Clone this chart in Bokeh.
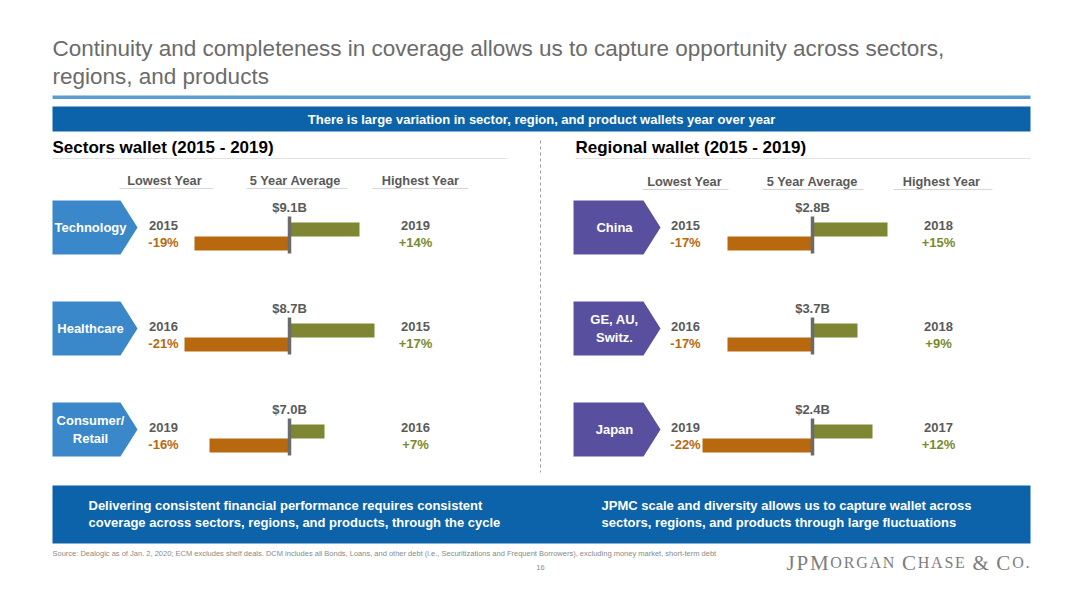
from bokeh.plotting import figure
from bokeh.models import Range1d, ColumnDataSource
from bokeh.core.properties import value
from bokeh.embed import file_html
from bokeh.resources import INLINE

# ---- data ----
sectors = ["Technology", "Healthcare", "Consumer/\nRetail"]
sector_avg = [9.1, 8.7, 7.0]
sector_low_year = ["2015", "2016", "2019"]
sector_low_pct = [-19, -21, -16]
sector_high_year = ["2019", "2015", "2016"]
sector_high_pct = [14, 17, 7]

regions = ["China", "GE, AU,\nSwitz.", "Japan"]
region_avg = [2.8, 3.7, 2.4]
region_low_year = ["2015", "2016", "2019"]
region_low_pct = [-17, -17, -22]
region_high_year = ["2018", "2018", "2017"]
region_high_pct = [15, 9, 12]

col_headers = ["Lowest Year", "5 Year Average", "Highest Year"]

FONT = value("Liberation Sans")
GREY = "#5a5a5a"
ORANGE = "#b8680f"
GREEN = "#7e8633"
OLIVE_TXT = "#7a8a2c"
DARK_BLUE = "#0c63a9"

W, H = 1064, 592
p = figure(width=W, height=H, output_backend="svg", toolbar_location=None,
           x_range=Range1d(0, W), y_range=Range1d(H, 0),
           x_axis_type=None, y_axis_type=None, min_border=0,
           outline_line_color=None, background_fill_color="white")
p.grid.visible = False

# percent scales for the two bar panels: 0 sits on the average marker
PX_PER_PCT = 5.0
for name, zero in (("sect", 289), ("reg", 812)):
    p.extra_x_ranges[name] = Range1d((0 - zero) / PX_PER_PCT,
                                     (W - zero) / PX_PER_PCT)

def txt(x, y, t, size, color, bold=False, align="left", **kw):
    p.text(x=x, y=y, text=t if isinstance(t, list) else [t],
           text_font=FONT, text_font_size=size, text_color=color,
           text_font_style="bold" if bold else "normal",
           text_align=align, text_baseline="middle", **kw)

# title
txt([52], [48], "Continuity and completeness in coverage allows us to capture opportunity across sectors,",
    "22.5px", "#6b6b6b")
txt([52], [76], "regions, and products", "22.5px", "#6b6b6b")
p.quad(left=[52], right=[1030], top=[95], bottom=[98.5], color="#5b9bd0", line_color=None)

# banner
p.quad(left=[52], right=[1030], top=[106], bottom=[131], color=DARK_BLUE, line_color=None)
txt([541], [118.5], "There is large variation in sector, region, and product wallets year over year",
    "13px", "white", bold=True, align="center")

# section titles
txt([52], [147], "Sectors wallet (2015 - 2019)", "17px", "black", bold=True)
txt([575], [147], "Regional wallet (2015 - 2019)", "17px", "black", bold=True)
p.segment(x0=[52, 575], y0=[158, 158], x1=[507, 1030], y1=[158, 158],
          line_color="#e3e3e3", line_width=1)
p.segment(x0=[540], y0=[140], x1=[540], y1=[472], line_color="#9a9a9a",
          line_width=1, line_dash="3 3")

# column headers
for cx, x0s, x1s, hy in (([164, 295, 420], [119, 246, 372], [213, 347, 468], 180),
                         ([684, 812, 941], [642, 762, 893], [728, 863, 992], 181)):
    txt(cx, [hy] * 3, col_headers, "12.8px", GREY, bold=True, align="center")
    p.segment(x0=x0s, y0=[hy + 8] * 3, x1=x1s, y1=[hy + 8] * 3,
              line_color="#d6d6d6", line_width=1)

rows = [227, 328, 429]

def panel(labels, avg, lo_y, lo_p, hi_y, hi_p, rng, ax0, tip, lab_x, yr_lo_x, yr_hi_x, fill):
    # chevrons
    xs = [[ax0, tip - 17, tip, tip - 17, ax0] for _ in rows]
    ys = [[r - 27, r - 27, r, r + 27, r + 27] for r in rows]
    p.patches(xs, ys, fill_color=fill, line_color=None)
    txt([lab_x] * 3, rows, labels, "13px", "white", bold=True, align="center",
        text_line_height=1.25)

    src = ColumnDataSource(dict(
        lo=lo_p, hi=hi_p, zero=[0] * 3,
        y_hi=[r + 2 for r in rows], y_lo=[r + 16 for r in rows],
        m0=[r - 11 for r in rows], m1=[r + 26 for r in rows],
        lab_y=[r - 20 for r in rows],
        avg=[f"${v:.1f}B" for v in avg]))
    p.hbar(y="y_hi", left="zero", right="hi", height=14, source=src,
           fill_color=GREEN, line_color=None, x_range_name=rng)
    p.hbar(y="y_lo", left="lo", right="zero", height=14, source=src,
           fill_color=ORANGE, line_color=None, x_range_name=rng)
    p.segment(x0="zero", y0="m0", x1="zero", y1="m1", source=src,
              line_color="#6b6b6b", line_width=3.5, x_range_name=rng)
    p.text(x="zero", y="lab_y", text="avg", source=src, x_range_name=rng,
           text_font=FONT, text_font_size="13px", text_font_style="bold",
           text_color=GREY, text_align="center", text_baseline="middle")

    txt([yr_lo_x] * 3, [r - 2 for r in rows], lo_y, "13px", GREY, bold=True, align="center")
    txt([yr_lo_x] * 3, [r + 15 for r in rows], [f"{v:+d}%" for v in lo_p],
        "13px", ORANGE, bold=True, align="center")
    txt([yr_hi_x] * 3, [r - 2 for r in rows], hi_y, "13px", GREY, bold=True, align="center")
    txt([yr_hi_x] * 3, [r + 15 for r in rows], [f"{v:+d}%" for v in hi_p],
        "13px", OLIVE_TXT, bold=True, align="center")

panel(sectors, sector_avg, sector_low_year, sector_low_pct, sector_high_year,
      sector_high_pct, "sect", 52, 137, 90, 163, 415, "#3a88c9")
panel(regions, region_avg, region_low_year, region_low_pct, region_high_year,
      region_high_pct, "reg", 573, 660, 614, 685, 938, "#58509f")

# bottom takeaway box
p.quad(left=[52], right=[1030], top=[485], bottom=[543], color=DARK_BLUE, line_color=None)
txt([88, 88], [505, 522], ["Delivering consistent financial performance requires consistent",
                           "coverage across sectors, regions, and products, through the cycle"],
    "13px", "white", bold=True)
txt([601, 601], [505, 522], ["JPMC scale and diversity allows us to capture wallet across",
                             "sectors, regions, and products through large fluctuations"],
    "13px", "white", bold=True)

# footer
txt([52], [553], "Source: Dealogic as of Jan. 2, 2020; ECM excludes shelf deals. DCM includes all Bonds, "
    "Loans, and other debt (i.e., Securitizations and Frequent Borrowers), excluding money market, short-term debt",
    "7.5px", "#8a8a8a")
txt([540], [567], "16", "7.5px", "#8a8a8a", align="center")

# logo in small caps with light letter spacing (Times-style advance widths)
LOGO = value("Liberation Serif")
ADV = {"J": .389, "P": .556, "M": .889, "O": .722, "R": .667, "G": .722, "A": .722,
       "N": .722, "C": .667, "H": .722, "S": .556, "E": .611, "&": .778, ".": .25, " ": .25}
BIG, SMALL = 21, 16
logo = "JPMORGAN CHASE & CO."
big_idx = {0, 1, 2, 9, 15, 17}
sizes = [BIG if i in big_idx else SMALL for i in range(len(logo))]
widths = [ADV[c] * s for c, s in zip(logo, sizes)]
gap = (1029 - 786 - sum(widths)) / (len(logo) - 1)
x = 786
for c, s, w in zip(logo, sizes, widths):
    if c != " ":
        p.text(x=[x], y=[562], text=[c], text_font=LOGO, text_font_size=f"{s}px",
               text_color="#7d7d7d", text_align="left", text_baseline="alphabetic")
    x += w + gap

open("out.html", "w").write(file_html(p, INLINE))
